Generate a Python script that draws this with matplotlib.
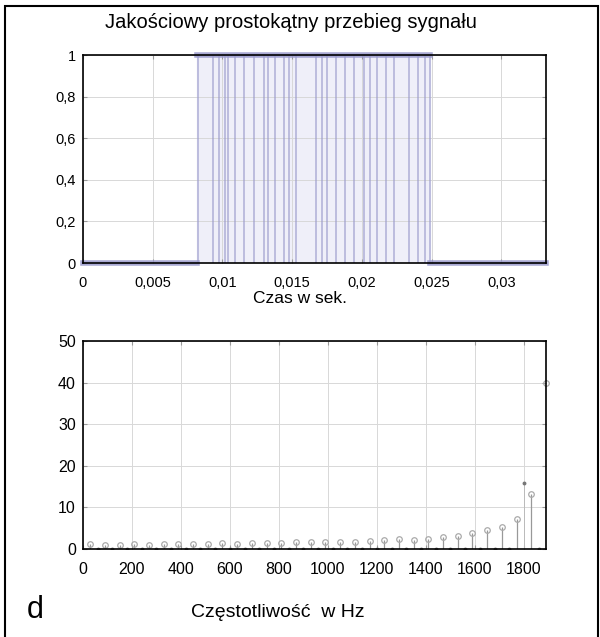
import matplotlib.pyplot as plt
from matplotlib.patches import Rectangle
from matplotlib.ticker import FuncFormatter

plt.rcParams['font.family'] = ['Liberation Sans', 'DejaVu Sans']

# top plot: rectangular signal, edges in seconds
t_rise = 0.0082
t_fall = 0.0249
t_end = 0.0332
# drop-out lines inside the high part of the signal
t_lines = [0.00824, 0.00936, 0.00974, 0.0102, 0.01038, 0.01093, 0.01152,
           0.01229, 0.0130, 0.01324, 0.01379, 0.01443, 0.01479, 0.01531,
           0.01669, 0.01717, 0.01752, 0.01812, 0.01876, 0.01943, 0.02014,
           0.02062, 0.0211, 0.02174, 0.02229, 0.02336, 0.02402, 0.0245,
           0.0249]

# bottom plot: spectrum
f_peaks = [30, 90, 150, 210, 270, 330, 390, 450, 510, 570, 630, 690, 750,
           810, 870, 930, 990, 1050, 1110, 1170, 1230, 1290, 1350, 1410,
           1470, 1530, 1590, 1650, 1710, 1770, 1830, 1890]
a_peaks = [1.2, 1.1, 1.1, 1.2, 1.1, 1.2, 1.3, 1.2, 1.3, 1.4, 1.3, 1.5, 1.4,
           1.5, 1.6, 1.6, 1.7, 1.8, 1.8, 2.0, 2.2, 2.4, 2.2, 2.5, 2.8, 3.2,
           3.8, 4.6, 5.4, 7.2, 13.2, 40.0]
f_zero = [60, 120, 180, 240, 300, 360, 420, 480, 540, 600, 660, 720, 780,
          840, 900, 960, 1020, 1080, 1140, 1200, 1260, 1320, 1380, 1440,
          1500, 1560, 1620, 1680, 1740, 1800, 1860]
a_zero = [0.1, 0.1, 0.1, 0.1, 0.1, 0.1, 0.1, 0.1, 0.1, 0.1, 0.1, 0.1, 0.1,
          0.1, 0.1, 0.1, 0.1, 0.1, 0.1, 0.1, 0.1, 0.1, 0.1, 0.1, 0.1, 0.1,
          0.1, 0.1, 0.1, 16.0, 0.1]

SIG = '#9a9acc'


def comma(v, pos):
    s = f'{v:g}'
    return s.replace('.', ',')


def style(ax, size):
    ax.grid(True, color='#d8d8d8', linewidth=0.7)
    ax.tick_params(direction='in', length=3, top=True, right=True,
                   labelsize=size, color='#999999')
    ax.tick_params(axis='x', pad=9)
    ax.tick_params(axis='y', pad=5)
    for s in ax.spines.values():
        s.set_linewidth(1.2)


fig = plt.figure(figsize=(6.0, 6.37), dpi=100)
fig.patches.append(Rectangle((0.009, -0.01), 0.987, 1.0, transform=fig.transFigure,
                             fill=False, edgecolor='black', linewidth=1.5))

# top axes
ax1 = fig.add_axes([0.138, 0.587, 0.772, 0.3265])
ax1.axvspan(t_rise, t_fall, color='#efeff9', zorder=0)
ax1.vlines(t_lines, 0, 1, color=SIG, linewidth=1.3, alpha=0.65)
ax1.plot([0, t_rise], [0, 0], color=SIG, linewidth=4, alpha=0.85, clip_on=False)
ax1.plot([t_rise, t_fall], [1, 1], color=SIG, linewidth=4, alpha=0.85, clip_on=False)
ax1.plot([t_fall, t_end], [0, 0], color=SIG, linewidth=4, alpha=0.85, clip_on=False)
ax1.set_xlim(0, t_end)
ax1.set_ylim(0, 1)
ax1.set_xticks([0, 0.005, 0.01, 0.015, 0.02, 0.025, 0.03])
ax1.set_yticks([0, 0.2, 0.4, 0.6, 0.8, 1])
ax1.xaxis.set_major_formatter(FuncFormatter(comma))
ax1.yaxis.set_major_formatter(FuncFormatter(comma))
style(ax1, 10.5)

fig.text(0.485, 0.965, 'Jakościowy prostokątny przebieg sygnału',
         ha='center', va='center', fontsize=14.5)
fig.text(0.5, 0.532, 'Czas w sek.', ha='center', va='center', fontsize=12.5)

# bottom axes
ax2 = fig.add_axes([0.138, 0.138, 0.772, 0.3266])
ml, sl, bl = ax2.stem(f_peaks, a_peaks, basefmt=' ')
plt.setp(sl, color='#999999', linewidth=0.9)
plt.setp(ml, markerfacecolor='none', markeredgecolor='#aaaaaa', markersize=4,
         markeredgewidth=0.9, clip_on=False)
ml2, sl2, bl2 = ax2.stem(f_zero, a_zero, basefmt=' ')
plt.setp(sl2, color='#bbbbbb', linewidth=0.7)
plt.setp(ml2, markerfacecolor='#777777', markeredgecolor='#777777', markersize=1.8)
ax2.set_xlim(0, 1890)
ax2.set_ylim(0, 50)
ax2.set_xticks(range(0, 1801, 200))
ax2.set_yticks(range(0, 51, 10))
style(ax2, 11.5)

fig.text(0.463, 0.039, 'Częstotliwość  w Hz', ha='center', va='center', fontsize=14)
fig.text(0.058, 0.043, 'd', ha='center', va='center', fontsize=22)

fig.savefig('out.png', dpi=100)
